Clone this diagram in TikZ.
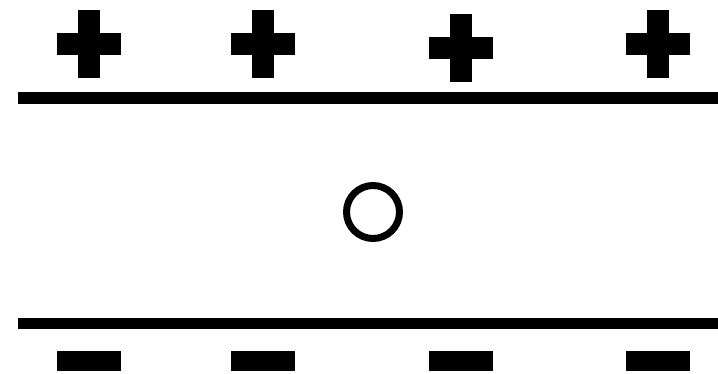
\documentclass[tikz,border=0pt]{standalone}
\usepackage{tikz}
\usetikzlibrary{calc}

\begin{document}
\begin{tikzpicture}[
        x=1pt, y=-1pt,
        plate/.style={line width=12pt},
        charge/.style={fill=black}
    ]

        % === DEFINITIONS & COORDINATES ===
        \def\picW{718}    % Width of the picture
        \def\picH{374}    % Height of the picture
        \def\armL{32}     % Half length of a charge bar
        \def\armT{11}     % Half thickness of a charge bar
        \def\yMinus{361}  % Height of the minus signs

        \useasboundingbox (0,0) rectangle (\picW,\picH);

        \coordinate (TopStart) at (18, 98);
        \coordinate (TopEnd) at (\picW, 98);
        \coordinate (BotStart) at (18, 323.5);
        \coordinate (BotEnd) at (\picW, 323.5);

        % === 1. THE PLATES ===
        \draw[plate] (TopStart) -- (TopEnd);
        \draw[plate, line width=11pt] (BotStart) -- (BotEnd);

        % === 2. PLUS CHARGES ===
        \foreach \cx/\cy in {89/44, 263/44, 461/48, 658/44} {
            \fill[charge] (\cx-\armL, \cy-\armT) rectangle (\cx+\armL, \cy+\armT);
            \fill[charge] (\cx-\armT, \cy-34) rectangle (\cx+\armT, \cy+34);
        }

        % === 3. MINUS CHARGES ===
        \foreach \cx in {89, 263, 461, 658} {
            \fill[charge] (\cx-\armL, \yMinus-10) rectangle (\cx+\armL, \yMinus+10);
        }

        % === 4. TEST CHARGE ===
        \draw[line width=7pt] (373, 212) circle[radius=26.5];

    \end{tikzpicture}
\end{document}
